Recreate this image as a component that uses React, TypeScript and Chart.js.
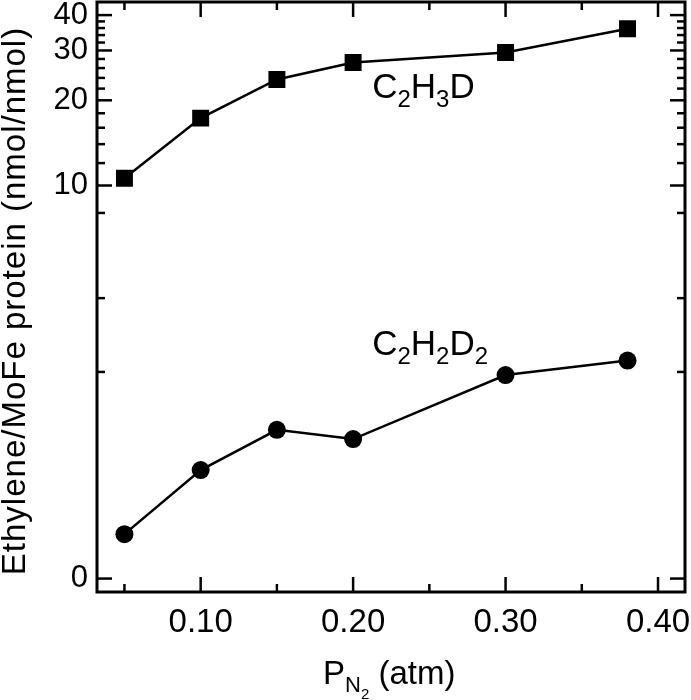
import React, { useEffect, useRef } from "react";
import { Chart, registerables } from "chart.js";

Chart.register(...registerables);

// ---- data ----
const pressures = [0.05, 0.1, 0.15, 0.2, 0.3, 0.38];
const c2h3dValues = [10.6, 17.3, 23.7, 27.2, 29.5, 35.8];
const c2h2d2Values = [0.215, 0.525, 0.72, 0.675, 0.985, 1.055];

const xTickValues = [0.05, 0.1, 0.15, 0.2, 0.25, 0.3, 0.35, 0.4];
const xTickLabels = ["", "0.10", "", "0.20", "", "0.30", "", "0.40"];

const logTickValues = [4, 8, 10, 12, 14, 16, 18, 20, 22, 24, 26, 28, 30, 32, 34, 36, 38, 40];
const logTickLabels = ["", "", "10", "", "", "", "", "20", "", "", "", "", "30", "", "", "", "", "40"];

const linTickValues = [0, 1];
const linTickLabels = ["0", ""];

const FONT = "'Liberation Sans', Arial, Helvetica, sans-serif";

type Part = [string, number];

function drawParts(ctx: CanvasRenderingContext2D, parts: Part[], x: number, y: number, base: number) {
  let cx = x;
  for (const [text, level] of parts) {
    const size = level === 0 ? base : level === 1 ? Math.round(base * 0.68) : Math.round(base * 0.45);
    const dy = level === 0 ? 0 : level === 1 ? base * 0.25 : base * 0.45;
    ctx.font = `${size}px ${FONT}`;
    ctx.fillText(text, cx, y + dy);
    cx += ctx.measureText(text).width;
  }
}

const framePlugin = {
  id: "framePlugin",
  afterDraw(chart: any) {
    const ctx: CanvasRenderingContext2D = chart.ctx;
    const { left, right, top, bottom } = chart.chartArea;
    ctx.save();
    ctx.strokeStyle = "#000";
    ctx.fillStyle = "#000";
    ctx.lineCap = "butt";

    const line = (x1: number, y1: number, x2: number, y2: number) => {
      ctx.beginPath();
      ctx.moveTo(x1, y1);
      ctx.lineTo(x2, y2);
      ctx.stroke();
    };

    // inward ticks
    ctx.lineWidth = 2.5;
    const xs = chart.scales.x;
    xTickValues.forEach((v, i) => {
      const px = xs.getPixelForValue(v);
      const len = xTickLabels[i] ? 15 : 8;
      line(px, bottom, px, bottom - len);
      line(px, top, px, top + len);
    });
    const yLog = chart.scales.yLog;
    logTickValues.forEach((v, i) => {
      const py = yLog.getPixelForValue(v);
      const len = logTickLabels[i] ? 15 : 8;
      line(left, py, left + len, py);
      line(right, py, right - len, py);
    });
    const yLin = chart.scales.yLin;
    linTickValues.forEach((v, i) => {
      const py = yLin.getPixelForValue(v);
      const len = linTickLabels[i] ? 15 : 8;
      line(left, py, left + len, py);
      line(right, py, right - len, py);
    });

    // frame
    ctx.lineWidth = 3;
    ctx.strokeRect(left, top, right - left, bottom - top);

    // series labels
    ctx.textAlign = "left";
    ctx.textBaseline = "alphabetic";
    drawParts(ctx, [["C", 0], ["2", 1], ["H", 0], ["3", 1], ["D", 0]],
      xs.getPixelForValue(0.2125), yLog.getPixelForValue(20.3), 35);
    drawParts(ctx, [["C", 0], ["2", 1], ["H", 0], ["2", 1], ["D", 0], ["2", 1]],
      xs.getPixelForValue(0.2125), yLin.getPixelForValue(1.08), 35);

    // x title: P_{N_2} (atm)
    drawParts(ctx, [["P", 0], ["N", 1], ["2", 2], [" (atm)", 0]], 323, 684, 33);

    // y title
    ctx.save();
    ctx.translate(25, 301);
    ctx.rotate(-Math.PI / 2);
    ctx.textAlign = "center";
    ctx.font = `33px ${FONT}`;
    (ctx as any).letterSpacing = "1px";
    ctx.fillText("Ethylene/MoFe protein (nmol/nmol)", 0, 0);
    ctx.restore();

    ctx.restore();
  },
};

const noPadX = (s: any) => {
  s.height = 108;
  s.paddingLeft = 0;
  s.paddingRight = 0;
};
const noPadY = (s: any) => {
  s.width = 97;
  s.paddingTop = 0;
  s.paddingBottom = 0;
};

export default function App() {
  const ref = useRef<HTMLCanvasElement | null>(null);

  useEffect(() => {
    document.body.style.margin = "0";
    const canvas = ref.current;
    if (!canvas) return;

    const chart = new Chart(canvas, {
      type: "line",
      data: {
        datasets: [
          {
            label: "C2H3D",
            data: pressures.map((p, i) => ({ x: p, y: c2h3dValues[i] })),
            yAxisID: "yLog",
            xAxisID: "x",
            borderColor: "#000",
            backgroundColor: "#000",
            borderWidth: 2.5,
            pointStyle: "rect",
            pointRadius: 12,
            pointHoverRadius: 12,
            pointBorderWidth: 0,
            tension: 0,
          },
          {
            label: "C2H2D2",
            data: pressures.map((p, i) => ({ x: p, y: c2h2d2Values[i] })),
            yAxisID: "yLin",
            xAxisID: "x",
            borderColor: "#000",
            backgroundColor: "#000",
            borderWidth: 2.5,
            pointStyle: "circle",
            pointRadius: 9,
            pointHoverRadius: 9,
            pointBorderWidth: 0,
            tension: 0,
          },
        ],
      },
      options: {
        animation: false,
        responsive: true,
        maintainAspectRatio: false,
        layout: { autoPadding: false, padding: { top: 2, right: 6, left: 0, bottom: 0 } },
        plugins: {
          legend: { display: false },
          tooltip: { enabled: false },
        },
        scales: {
          x: {
            type: "linear",
            position: "bottom",
            min: 0.032,
            max: 0.4177,
            grid: { display: false, drawTicks: false },
            border: { display: false },
            afterBuildTicks: (s: any) => {
              s.ticks = xTickValues.map((v) => ({ value: v }));
            },
            afterFit: noPadX,
            ticks: {
              autoSkip: false,
              maxRotation: 0,
              color: "#000",
              padding: 11,
              font: { size: 33, family: FONT },
              callback: (_v: any, i: number) => xTickLabels[i],
            },
          },
          yLin: {
            type: "linear",
            position: "left",
            stack: "y",
            stackWeight: 258.5,
            min: -0.065,
            max: 1.186,
            grid: { display: false, drawTicks: false },
            border: { display: false },
            afterBuildTicks: (s: any) => {
              s.ticks = linTickValues.map((v) => ({ value: v }));
            },
            afterFit: noPadY,
            ticks: {
              autoSkip: false,
              color: "#000",
              padding: 9,
              font: { size: 31, family: FONT },
              callback: (_v: any, i: number) => linTickLabels[i],
            },
          },
          yLog: {
            type: "logarithmic",
            position: "left",
            stack: "y",
            stackWeight: 331.5,
            min: 3,
            max: 44.5,
            grid: { display: false, drawTicks: false },
            border: { display: false },
            afterBuildTicks: (s: any) => {
              s.ticks = logTickValues.map((v) => ({ value: v }));
            },
            afterFit: noPadY,
            ticks: {
              autoSkip: false,
              color: "#000",
              padding: 9,
              font: { size: 31, family: FONT },
              callback: (_v: any, i: number) => logTickLabels[i],
            },
          },
        },
      },
      plugins: [framePlugin],
    } as any);

    return () => {
      chart.destroy();
    };
  }, []);

  return (
    <div style={{ position: "relative", width: 691, height: 700 }}>
      <canvas ref={ref} />
    </div>
  );
}
